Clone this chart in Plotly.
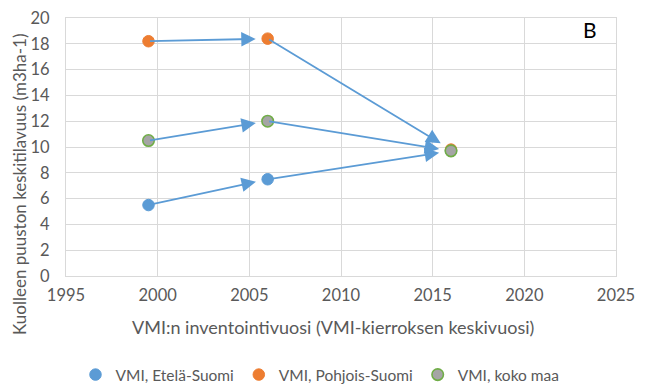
import plotly.graph_objects as go

years = [1999.5, 2006, 2016]
series_names = ["VMI, Etelä-Suomi", "VMI, Pohjois-Suomi", "VMI, koko maa"]
etela = [5.5, 7.5, 9.7]
pohjois = [18.2, 18.4, 9.8]
koko_maa = [10.5, 12.0, 9.7]
x_ticks = [1995, 2000, 2005, 2010, 2015, 2020, 2025]
y_ticks = [0, 2, 4, 6, 8, 10, 12, 14, 16, 18, 20]

FONT = "Lato"
GREY = "#595959"
BLUE = "#5B9BD5"
GRID = "#D9D9D9"

L, R, T, B = 66, 34, 18, 112
PW, PH = 650 - L - R, 388 - T - B


def px(xp):
    return (xp - L) / PW


def py(yp):
    return (388 - B - yp) / PH


fig = go.Figure()
styles = [
    dict(color=BLUE, line=dict(color=BLUE, width=1)),
    dict(color="#ED7D31", line=dict(color="#ED7D31", width=1)),
    dict(color="#A5A5A5", line=dict(color="#70AD47", width=1.6)),
]
for name, vals, st in zip(series_names, [etela, pohjois, koko_maa], styles):
    fig.add_trace(go.Scatter(x=years, y=vals, mode="markers", name=name,
                             marker=dict(size=11.5, **st), cliponaxis=False))

annotations = []
for vals in [etela, pohjois, koko_maa]:
    for i in range(len(years) - 1):
        annotations.append(dict(
            x=years[i + 1], y=vals[i + 1], ax=years[i], ay=vals[i],
            xref="x", yref="y", axref="x", ayref="y",
            showarrow=True, text="", arrowhead=2, arrowsize=1.6,
            arrowwidth=1.8, arrowcolor=BLUE, standoff=12,
        ))
annotations.append(dict(text="B", x=px(590), y=py(30), xref="paper", yref="paper",
                        showarrow=False, xanchor="center", yanchor="middle",
                        font=dict(size=21, color="black", family=FONT)))
annotations.append(dict(text="Kuolleen puuston keskitilavuus (m3ha-1)",
                        x=px(19), y=py(185), xref="paper", yref="paper",
                        showarrow=False, textangle=-90, xanchor="center", yanchor="middle",
                        font=dict(size=17, color=GREY, family=FONT)))
annotations.append(dict(text="VMI:n inventointivuosi (VMI-kierroksen keskivuosi)",
                        x=px(333), y=py(327), xref="paper", yref="paper",
                        showarrow=False, xanchor="center", yanchor="middle",
                        font=dict(size=18, color=GREY, family=FONT)))
fig.update_layout(annotations=annotations)

fig.update_layout(
    width=650, height=388,
    margin=dict(l=L, r=R, t=T, b=B, autoexpand=False),
    paper_bgcolor="white", plot_bgcolor="white",
    font=dict(family=FONT, color=GREY, size=16),
    showlegend=True,
    legend=dict(orientation="h", x=px(320), xanchor="center",
                y=py(375), yanchor="middle",
                font=dict(size=15.5, color=GREY), itemwidth=30, tracegroupgap=0),
    xaxis=dict(range=[1995, 2025], tickvals=x_ticks, showgrid=True, gridcolor=GRID,
               gridwidth=1, zeroline=False, showline=True, linecolor=GRID, linewidth=1,
               mirror=True, ticks="", tickfont=dict(size=16.5, color=GREY),
               ticklabelstandoff=4, automargin=False),
    yaxis=dict(range=[0, 20], tickvals=y_ticks, showgrid=True, gridcolor=GRID,
               gridwidth=1, zeroline=False, showline=True, linecolor=GRID, linewidth=1,
               mirror=True, ticks="", tickfont=dict(size=16.5, color=GREY),
               ticklabelstandoff=12, automargin=False),
)
fig.write_html("out.html", config={"displayModeBar": False},
               post_script="document.body.style.margin='0';")
